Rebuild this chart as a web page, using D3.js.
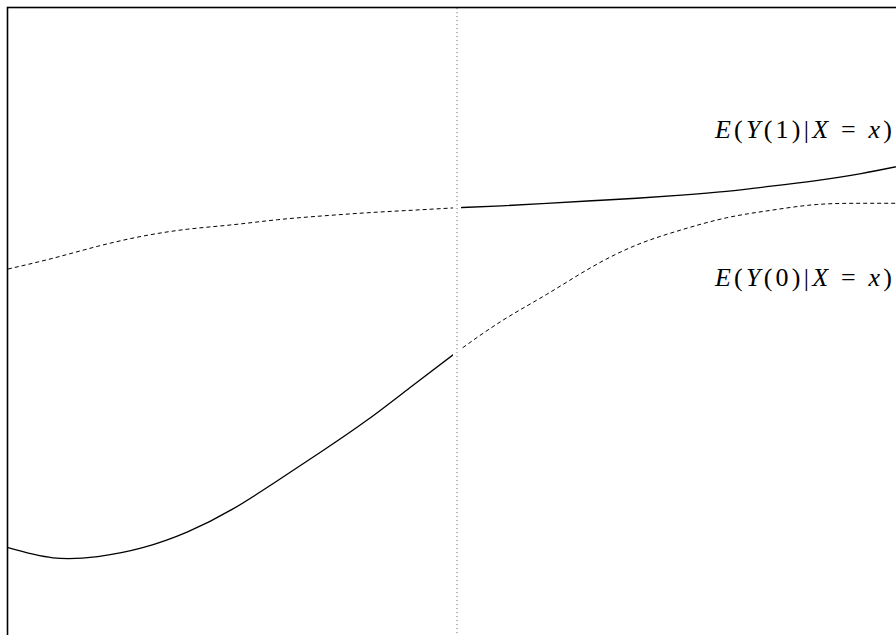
<!DOCTYPE html>
<html>
<head>
<meta charset="utf-8">
<script src="https://cdn.jsdelivr.net/npm/d3@7"></script>
<style>
	body { margin: 0; background: #fff; }
	svg { display: block; }
</style>
</head>
<body>
<div id="chart"></div>
<script>
// running variable (cutoff at 0)
const xs = [-1, -0.9, -0.8, -0.7, -0.6, -0.5, -0.4, -0.3, -0.2, -0.1, 0,
	0.1, 0.2, 0.3, 0.4, 0.5, 0.6, 0.7, 0.8, 0.9, 1];
// E(Y(1)|X=x)
const y1 = [5.87, 6.04, 6.23, 6.39, 6.5, 6.57, 6.65, 6.71, 6.76, 6.8, 6.84,
	6.87, 6.91, 6.95, 6.99, 7.04, 7.1, 7.18, 7.27, 7.38, 7.52];
// E(Y(0)|X=x)
const y0 = [1.46, 1.3, 1.32, 1.46, 1.71, 2.07, 2.52, 2.99, 3.48, 4.02, 4.56,
	5.05, 5.47, 5.9, 6.25, 6.49, 6.68, 6.8, 6.89, 6.91, 6.91];
const cutoff = 0;
const labels = [
	{ id: 1, y: 7.95 },
	{ id: 0, y: 5.6 }
];

const w = 896;
const h = 635;
const frameLeft = 7.5;
const frameTop = 7.5;
const gap = 4;

const xScale = d3.scaleLinear().domain([-1, 1]).range([8, 906]);
const yScale = d3.scaleLinear().domain([0, 10]).range([640, 8]);
const xc = xScale(cutoff);

const svg = d3
	.select("#chart")
	.append("svg")
	.attr("width", w)
	.attr("height", h);

const defs = svg.append("defs");
defs
	.append("clipPath")
	.attr("id", "clip-left")
	.append("rect")
	.attr("x", frameLeft)
	.attr("y", frameTop)
	.attr("width", xc - gap - frameLeft)
	.attr("height", 640);
defs
	.append("clipPath")
	.attr("id", "clip-right")
	.append("rect")
	.attr("x", xc + gap)
	.attr("y", frameTop)
	.attr("width", 906 - xc - gap)
	.attr("height", 640);

const line = d3
	.line()
	.x((d) => xScale(d[0]))
	.y((d) => yScale(d[1]))
	.curve(d3.curveNatural);

const pts = (ys) => xs.map((x, i) => [x, ys[i]]);

const segments = [
	{ data: pts(y1).filter((d) => d[0] <= cutoff), dash: "4,3", side: "left" },
	{ data: pts(y1).filter((d) => d[0] >= cutoff), dash: null, side: "right" },
	{ data: pts(y0).filter((d) => d[0] <= cutoff), dash: null, side: "left" },
	{ data: pts(y0).filter((d) => d[0] >= cutoff), dash: "4,3", side: "right" }
];

segments.forEach((s) => {
	svg
		.append("path")
		.datum(s.data)
		.attr("clip-path", "url(#clip-" + s.side + ")")
		.attr("fill", "none")
		.attr("stroke", "#000")
		.attr("stroke-width", s.dash ? 1 : 1.3)
		.attr("stroke-dasharray", s.dash)
		.attr("d", line);
});

// cutoff line
svg
	.append("line")
	.attr("x1", xc)
	.attr("x2", xc)
	.attr("y1", 8)
	.attr("y2", h)
	.attr("stroke", "#777")
	.attr("stroke-width", 1)
	.attr("stroke-dasharray", "1.2,2.8");

// frame
svg
	.append("rect")
	.attr("x", frameLeft)
	.attr("y", frameTop)
	.attr("width", 906 - frameLeft)
	.attr("height", 700)
	.attr("fill", "none")
	.attr("stroke", "#000")
	.attr("stroke-width", 1.6);

labels.forEach((l) => {
	const t = svg
		.append("text")
		.attr("x", 892)
		.attr("y", yScale(l.y))
		.attr("text-anchor", "end")
		.attr("font-family", "'Liberation Serif', 'Times New Roman', serif")
		.attr("font-size", 26)
		.attr("textLength", 177)
		.attr("lengthAdjust", "spacing");
	const parts = [
		["E", true], ["(", false], ["Y", true], ["(" + l.id + ")", false],
		["|", false], ["X", true], [" = ", false], ["x", true], [")", false]
	];
	parts.forEach(([s, it]) => {
		t.append("tspan")
			.attr("font-style", it ? "italic" : "normal")
			.attr("xml:space", "preserve")
			.text(s);
	});
});
</script>
</body>
</html>
